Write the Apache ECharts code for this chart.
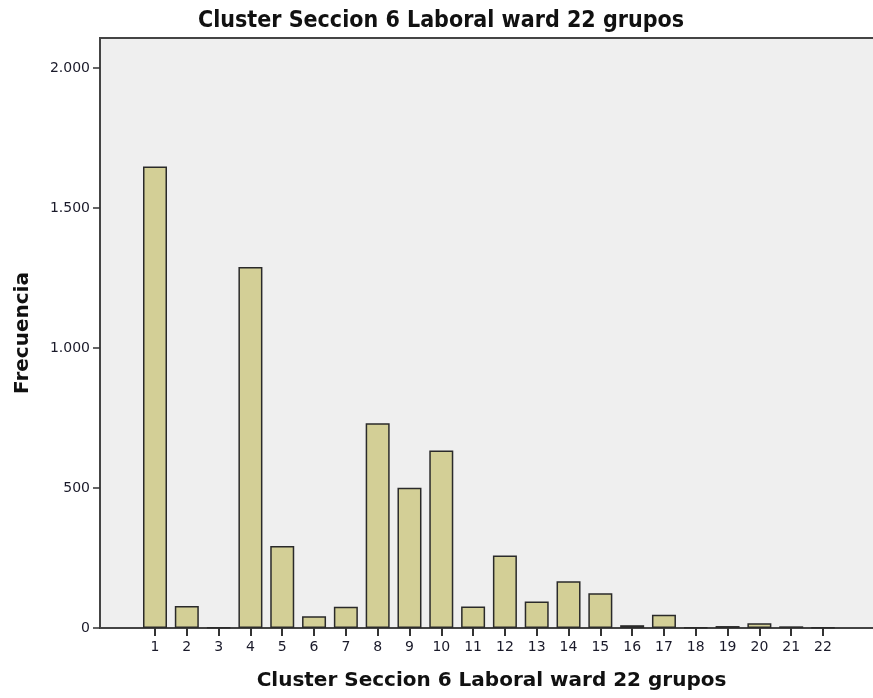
<!DOCTYPE html>
<html>
<head>
<meta charset="utf-8">
<script src="https://cdn.jsdelivr.net/npm/echarts@6/dist/echarts.min.js"></script>
<style>
	html, body { margin: 0; padding: 0; background: #fff; }
	#chart { width: 873px; height: 698px; }
</style>
</head>
<body>
<div id="chart"></div>
<script>
// datos
var clusters = [1, 2, 3, 4, 5, 6, 7, 8, 9, 10, 11, 12, 13, 14, 15, 16, 17, 18, 19, 20, 21, 22];
var frecuencias = [1648, 79, 2, 1289, 293, 42, 76, 731, 501, 634, 77, 259, 95, 167, 124, 10, 47, 2, 7, 17, 6, 2];
var yTicks = [0, 500, 1000, 1500, 2000];

function initChart(elem){
	var myChart = echarts.init(document.getElementById(elem));
	var barData = [];
	for (var i = 0; i < clusters.length; i++) {
		barData.push([clusters[i], frecuencias[i]]);
	}
	var option = {
		animation: false,
		title : {
			text: 'Cluster Seccion 6 Laboral ward 22 grupos',
			left: 436,
			textAlign: 'center',
			top: 5,
			textStyle: {
				fontFamily: 'DejaVu Sans Condensed',
				fontWeight: 'bold',
				fontSize: 23,
				color: '#111'
			}
		},
		grid : {
			left: 100,
			right: -10,
			top: 38,
			bottom: 70,
			outerBoundsMode: 'none',
			containLabel: false,
			show: true,
			backgroundColor: '#efefef',
			borderColor: '#444',
			borderWidth: 2
		},
		xAxis : {
			type : 'value',
			min: -0.729,
			max: 23.886,
			name: 'Cluster Seccion 6 Laboral ward 22 grupos',
			nameLocation: 'middle',
			nameGap: 43,
			nameTextStyle: {
				fontFamily: 'DejaVu Sans',
				fontWeight: 'bold',
				fontSize: 20,
				color: '#111'
			},
			splitLine: {show: false},
			axisLine: {show: true, onZero: false, lineStyle: {color: '#444', width: 2}},
			axisTick: {show: true, customValues: clusters, length: 8, lineStyle: {color: '#333', width: 2}},
			axisLabel: {
				customValues: clusters,
				margin: 12,
				fontFamily: 'DejaVu Sans',
				fontSize: 14,
				color: '#1a1a2a'
			}
		},
		yAxis : {
			type : 'value',
			min: 0,
			max: 2107,
			interval: 500,
			name: 'Frecuencia',
			nameLocation: 'middle',
			nameRotate: 90,
			nameGap: 67,
			nameTextStyle: {
				fontFamily: 'DejaVu Sans',
				fontWeight: 'bold',
				fontSize: 20,
				color: '#111'
			},
			splitLine: {show: false},
			axisLine: {show: true, onZero: false, lineStyle: {color: '#444', width: 2}},
			axisTick: {show: true, customValues: yTicks, length: 7, lineStyle: {color: '#333', width: 1.5}},
			axisLabel: {
				customValues: yTicks,
				margin: 10,
				fontFamily: 'DejaVu Sans',
				fontSize: 14,
				color: '#1a1a2a',
				formatter: function (v) {
					return v.toString().replace(/\B(?=(\d{3})+(?!\d))/g, '.');
				}
			}
		},
		series : [{
			type: 'bar',
			data: barData,
			barWidth: 24,
			itemStyle: {
				color: '#d3cf96',
				borderColor: '#2a2a2a',
				borderWidth: 1.5
			}
		}]
	};
	myChart.setOption(option);
}

initChart('chart');
</script>
</body>
</html>
